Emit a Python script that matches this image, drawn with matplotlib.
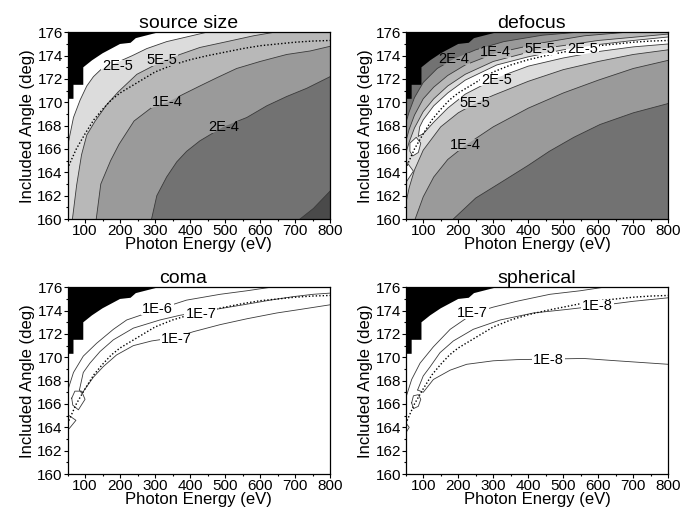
import matplotlib
matplotlib.use("Agg")
import matplotlib.pyplot as plt
from matplotlib.ticker import MultipleLocator
from matplotlib.path import Path
from matplotlib.transforms import IdentityTransform

plt.rcParams["font.family"] = ["Liberation Sans", "DejaVu Sans"]

E_MIN, E_MAX = 50, 800
A_MIN, A_MAX = 160, 176

# optimum included angle (dotted)
opt_E = [50, 60, 75, 100, 125, 150, 175, 200, 250, 300, 350, 400, 450, 500,
         550, 600, 650, 700, 750, 800]
opt_A = [164.3, 165.0, 166.0, 167.3, 168.5, 169.4, 170.2, 170.8, 171.7, 172.6,
         173.2, 173.65, 174.0, 174.3, 174.6, 174.85, 175.0, 175.15, 175.25, 175.3]

# geometrically forbidden region, lower edge
excl_E = [50, 67, 67, 95, 95, 120, 150, 200, 230, 245, 310]
excl_A = [170.3, 170.3, 171.5, 171.5, 173.0, 173.6, 174.2, 175.0, 175.1, 175.5, 176.0]

# ---- source size contours
ss_2e5_E = [50, 67, 86, 105, 124, 145, 190, 235, 276, 333, 390, 447]
ss_2e5_A = [166.2, 168.7, 170.2, 171.4, 172.2, 172.8, 173.4, 174.0, 174.6, 175.2, 175.6, 176.0]
ss_5e5_E = [64, 76, 90, 105, 129, 162, 195, 248, 319, 371, 428, 505, 581, 640]
ss_5e5_A = [160, 162.9, 165.5, 167.2, 168.4, 169.8, 170.9, 172.4, 173.5, 174.1, 174.7, 175.2, 175.7, 176.0]
ss_1e4_E = [132, 145, 173, 197, 240, 288, 335, 381, 428, 476, 533, 600, 676, 743, 800]
ss_1e4_A = [160, 163.0, 165.0, 166.4, 168.4, 169.5, 170.0, 170.7, 171.4, 172.1, 172.9, 173.5, 174.1, 174.4, 174.8]
ss_2e4_E = [290, 305, 333, 362, 390, 428, 495, 562, 619, 676, 733, 800]
ss_2e4_A = [160, 162.0, 163.6, 164.9, 165.8, 166.7, 167.9, 168.7, 169.7, 170.5, 171.2, 172.2]
ss_5e4_E = [714, 752, 800]
ss_5e4_A = [160, 160.9, 162.4]
ss_labels = [("2E-5", 192, 173.1), ("5E-5", 319, 173.6), ("1E-4", 335, 170.0), ("2E-4", 497, 167.9)]

# ---- defocus contours (upper / lower side of the optimum)
df_up2e5_E = [86, 90, 100, 130, 170, 220, 310, 400, 500, 600, 700, 800]
df_up2e5_A = [167.1, 167.9, 168.5, 169.7, 170.8, 171.9, 173.2, 173.9, 174.5, 174.95, 175.3, 175.6]
df_lo2e5_E = [86, 100, 130, 170, 220, 310, 400, 500, 600, 700, 800]
df_lo2e5_A = [167.1, 167.3, 168.3, 169.5, 170.7, 172.1, 173.1, 173.8, 174.35, 174.75, 175.0]
df_up5e5_E = [50, 60, 75, 100, 130, 170, 220, 300, 440, 600, 800]
df_up5e5_A = [165.6, 166.6, 167.8, 169.2, 170.3, 171.4, 172.4, 173.5, 174.6, 175.3, 175.85]
df_lo5e5_E = [50, 60, 75, 100, 150, 200, 248, 300, 400, 500, 600, 700, 800]
df_lo5e5_A = [161.3, 162.7, 164.2, 165.9, 167.9, 169.1, 169.9, 170.6, 171.8, 172.8, 173.5, 174.1, 174.5]
df_up1e4_E = [50, 60, 75, 100, 130, 170, 220, 305, 440, 560, 680]
df_up1e4_A = [166.6, 167.7, 168.9, 170.3, 171.3, 172.3, 173.2, 174.2, 175.1, 175.7, 176.0]
df_lo1e4_E = [77, 100, 130, 170, 220, 300, 400, 500, 600, 700, 800]
df_lo1e4_A = [160, 161.9, 163.6, 165.1, 166.3, 167.9, 169.5, 170.8, 171.9, 172.9, 173.6]
df_up2e4_E = [50, 60, 75, 100, 140, 186, 250, 330, 440, 540]
df_up2e4_A = [168.2, 169.2, 170.4, 171.7, 172.9, 173.7, 174.5, 175.2, 175.75, 176.0]
df_lo2e4_E = [186, 250, 320, 400, 460, 530, 605, 700, 800]
df_lo2e4_A = [160, 161.8, 163.1, 164.6, 165.8, 167.0, 168.1, 169.1, 169.9]
df_isl1_E = [50, 72, 50]
df_isl1_A = [165.0, 164.1, 163.1]
df_isl2_E = [62, 80, 93, 86, 70, 62]
df_isl2_A = [166.5, 167.0, 166.5, 165.7, 165.4, 165.8]
df_labels = [("2E-4", 186, 173.7), ("1E-4", 305, 174.3), ("5E-5", 432, 174.6), ("2E-5", 556, 174.6),
             ("2E-5", 310, 171.9), ("5E-5", 248, 169.9), ("1E-4", 220, 166.3)]

# ---- coma contours
cm_1e6_E = [50, 67, 95, 133, 181, 219, 307, 390, 486, 562, 630]
cm_1e6_A = [167.1, 168.7, 170.1, 171.2, 172.4, 173.2, 174.1, 174.9, 175.4, 175.7, 176.0]
cm_up1e7_E = [84, 95, 114, 143, 181, 238, 314, 371, 431, 552, 629, 695, 752, 800]
cm_up1e7_A = [167.2, 168.7, 169.5, 170.5, 171.5, 172.5, 173.2, 173.6, 173.9, 174.5, 174.9, 175.2, 175.4, 175.5]
cm_lo1e7_E = [84, 91, 124, 152, 190, 238, 290, 357, 410, 486, 562, 648, 714, 800]
cm_lo1e7_A = [167.2, 166.9, 168.3, 169.2, 170.2, 171.0, 171.4, 171.7, 172.2, 172.8, 173.3, 173.8, 174.1, 174.5]
cm_isl1_E = [62, 71, 90, 100, 81, 65, 62]
cm_isl1_A = [166.5, 167.1, 167.1, 166.4, 165.5, 165.9, 166.5]
cm_isl2_E = [50, 74, 55, 50]
cm_isl2_A = [165.1, 164.6, 163.9, 163.8]
cm_labels = [("1E-6", 307, 174.1), ("1E-7", 431, 173.7), ("1E-7", 360, 171.6)]

# ---- spherical contours
sp_1e7_E = [50, 67, 91, 129, 177, 245, 300, 367, 462, 548, 615]
sp_1e7_A = [166.5, 168.1, 169.5, 170.9, 172.4, 173.8, 174.3, 174.8, 175.4, 175.7, 176.0]
sp_up1e8_E = [84, 100, 120, 148, 186, 243, 320, 415, 510, 596, 700, 800]
sp_up1e8_A = [167.2, 168.4, 169.2, 170.4, 171.4, 172.4, 173.2, 173.8, 174.1, 174.4, 174.8, 175.1]
sp_lo1e8_E = [84, 100, 129, 177, 224, 300, 367, 458, 558, 653, 800]
sp_lo1e8_A = [167.2, 167.0, 168.1, 168.9, 169.4, 169.7, 169.8, 169.85, 169.9, 169.7, 169.4]
sp_isl1_E = [67, 72, 86, 93, 86, 72, 67]
sp_isl1_A = [166.1, 166.7, 166.8, 166.4, 165.8, 165.6, 166.1]
sp_isl2_E = [50, 60, 50]
sp_isl2_A = [164.4, 164.0, 163.5]
sp_labels = [("1E-7", 240, 173.8), ("1E-8", 598, 174.4), ("1E-8", 458, 169.8)]

# grey shades per level band
G0, G1, G2, G3, G4, G5 = "#ffffff", "#dcdcdc", "#b8b8b8", "#9a9a9a", "#727272", "#4a4a4a"
LINE = "#3a3a3a"


def above(xs, ys):
    """Polygon covering everything above a contour curve inside the frame."""
    xs, ys = list(xs), list(ys)
    if ys[0] <= A_MIN and xs[0] > E_MIN:
        xs.insert(0, E_MIN)
        ys.insert(0, A_MIN)
    if xs[-1] >= E_MAX:
        xs.append(E_MAX)
        ys.append(A_MAX)
    xs.append(E_MIN)
    ys.append(A_MAX)
    return xs, ys


def fill_above(ax, xs, ys, color):
    px, py = above(xs, ys)
    ax.fill(px, py, color=color, lw=0)


def loop(ax, e1, a1, e2, a2, color):
    ax.fill(list(e1) + list(e2[::-1]), list(a1) + list(a2[::-1]), color=color, lw=0)


def lines(ax, *curves):
    out = []
    for xs, ys in curves:
        out += ax.plot(xs, ys, color=LINE, lw=0.6)
    return out


def finish(ax, title, title_x, labels, drawn):
    ax.fill(*above(excl_E, excl_A), color="black", lw=0)
    drawn += ax.plot(opt_E, opt_A, color="black", lw=1.0, ls=(0, (1, 1.5)))
    texts = [ax.text(e, a, txt, ha="center", va="center", fontsize=10.5)
             for txt, e, a in labels]
    ax.set_xlim(E_MIN, E_MAX)
    ax.set_ylim(A_MIN, A_MAX)
    ax.xaxis.set_major_locator(MultipleLocator(100))
    ax.xaxis.set_minor_locator(MultipleLocator(50))
    ax.yaxis.set_major_locator(MultipleLocator(2))
    ax.yaxis.set_minor_locator(MultipleLocator(1))
    ax.tick_params(which="major", length=2.6, width=0.8, labelsize=11, pad=0.8)
    ax.tick_params(which="minor", length=1.6, width=0.8)
    ax.set_xlabel("Photon Energy (eV)", fontsize=12, labelpad=-0.5)
    ax.set_ylabel("Included Angle (deg)", fontsize=12, labelpad=2)
    ax.set_title(title, x=title_x, fontsize=14, pad=3)
    for s in ax.spines.values():
        s.set_linewidth(0.9)
    gaps.append((ax, texts, drawn))


def cut_label_gaps(pad=1.0):
    """Break the contour lines where their level labels sit."""
    fig.canvas.draw()
    r = fig.canvas.get_renderer()
    for ax, texts, drawn in gaps:
        b = ax.get_window_extent(r)
        x0, y0, x1, y1 = b.x0 - 20, b.y0 - 20, b.x1 + 20, b.y1 + 20
        verts = [(x0, y0), (x1, y0), (x1, y1), (x0, y1), (x0, y0)]
        codes = [Path.MOVETO] + [Path.LINETO] * 3 + [Path.CLOSEPOLY]
        for t in texts:
            tb = t.get_window_extent(r)
            a0, c0, a1, c1 = tb.x0 - pad, tb.y0 + 1, tb.x1 + pad, tb.y1 - 1
            verts += [(a0, c0), (a0, c1), (a1, c1), (a1, c0), (a0, c0)]
            codes += [Path.MOVETO] + [Path.LINETO] * 3 + [Path.CLOSEPOLY]
        clip = Path(verts, codes)
        for art in drawn:
            art.set_clip_path(clip, IdentityTransform())


gaps = []
fig = plt.figure(figsize=(6.94, 5.11), dpi=100)
w, h = 0.3784, 0.3654
ax_ss = fig.add_axes([0.0973, 0.5714, w, h])
ax_df = fig.add_axes([0.5846, 0.5714, w, h])
ax_cm = fig.add_axes([0.0973, 0.0724, w, h])
ax_sp = fig.add_axes([0.5846, 0.0724, w, h])

# source size: bands stacked from the darkest corner upward
ax_ss.set_facecolor(G5)
fill_above(ax_ss, ss_5e4_E, ss_5e4_A, G4)
fill_above(ax_ss, ss_2e4_E, ss_2e4_A, G3)
fill_above(ax_ss, ss_1e4_E, ss_1e4_A, G2)
fill_above(ax_ss, ss_5e5_E, ss_5e5_A, G1)
fill_above(ax_ss, ss_2e5_E, ss_2e5_A, G0)
ss_lines = lines(ax_ss, (ss_5e4_E, ss_5e4_A), (ss_2e4_E, ss_2e4_A), (ss_1e4_E, ss_1e4_A),
                 (ss_5e5_E, ss_5e5_A), (ss_2e5_E, ss_2e5_A))
finish(ax_ss, "source size", 0.46, ss_labels, ss_lines)

# defocus: bands nested around the optimum
ax_df.set_facecolor(G4)
fill_above(ax_df, df_lo2e4_E, df_lo2e4_A, G3)
fill_above(ax_df, df_lo1e4_E, df_lo1e4_A, G2)
fill_above(ax_df, df_lo5e5_E, df_lo5e5_A, G1)
fill_above(ax_df, df_up5e5_E, df_up5e5_A, G2)
fill_above(ax_df, df_up1e4_E, df_up1e4_A, G3)
fill_above(ax_df, df_up2e4_E, df_up2e4_A, G4)
loop(ax_df, df_lo2e5_E, df_lo2e5_A, df_up2e5_E, df_up2e5_A, G0)
ax_df.fill(df_isl1_E, df_isl1_A, facecolor=G0, edgecolor=LINE, lw=0.6)
ax_df.fill(df_isl2_E, df_isl2_A, facecolor=G0, edgecolor=LINE, lw=0.6)
df_lines = lines(ax_df, (df_lo2e4_E, df_lo2e4_A), (df_lo1e4_E, df_lo1e4_A), (df_lo5e5_E, df_lo5e5_A),
                 (df_lo2e5_E, df_lo2e5_A), (df_up2e5_E, df_up2e5_A), (df_up5e5_E, df_up5e5_A),
                 (df_up1e4_E, df_up1e4_A), (df_up2e4_E, df_up2e4_A))
finish(ax_df, "defocus", 0.48, df_labels, df_lines)

# coma
cm_lines = lines(ax_cm, (cm_1e6_E, cm_1e6_A), (cm_up1e7_E, cm_up1e7_A), (cm_lo1e7_E, cm_lo1e7_A),
                 (cm_isl1_E, cm_isl1_A), (cm_isl2_E, cm_isl2_A))
finish(ax_cm, "coma", 0.44, cm_labels, cm_lines)

# spherical
sp_lines = lines(ax_sp, (sp_1e7_E, sp_1e7_A), (sp_up1e8_E, sp_up1e8_A), (sp_lo1e8_E, sp_lo1e8_A),
                 (sp_isl1_E, sp_isl1_A), (sp_isl2_E, sp_isl2_A))
finish(ax_sp, "spherical", 0.5, sp_labels, sp_lines)

cut_label_gaps()
fig.savefig("out.png", dpi=100)
